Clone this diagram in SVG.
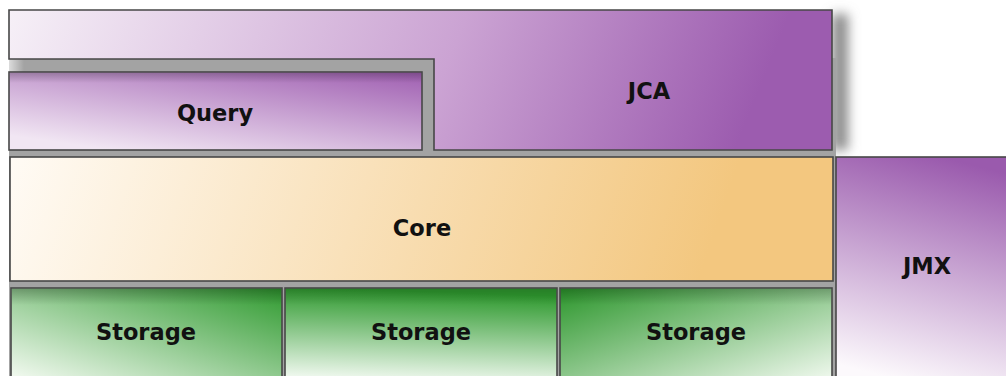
<svg xmlns="http://www.w3.org/2000/svg" width="1006" height="376" viewBox="0 0 1006 376">
  <style>
    .box { stroke: #474747; stroke-width: 1.6; }
    .label { font-family: "DejaVu Sans", Verdana, sans-serif; font-weight: bold; font-size: 22.5px; fill: #111; text-anchor: middle; }
  </style>
  <defs>
    <linearGradient id="gJca" gradientUnits="userSpaceOnUse" x1="9" y1="10" x2="800" y2="330">
      <stop offset="0" stop-color="#f6f0f7"/>
      <stop offset="0.5" stop-color="#cba3d3"/>
      <stop offset="0.85" stop-color="#9c5caf"/>
    </linearGradient>
    <linearGradient id="gQuery" x1="1" y1="0" x2="0.25" y2="1">
      <stop offset="0" stop-color="#9f5eb1"/>
      <stop offset="1" stop-color="#f1e6f3"/>
    </linearGradient>
    <linearGradient id="gCore" gradientUnits="userSpaceOnUse" x1="10" y1="157" x2="780" y2="420">
      <stop offset="0" stop-color="#fffbf5"/>
      <stop offset="0.85" stop-color="#f3c77f"/>
    </linearGradient>
    <linearGradient id="gSto1" x1="1" y1="0" x2="0" y2="1">
      <stop offset="0" stop-color="#2f9a2f"/>
      <stop offset="1" stop-color="#f5fbf3"/>
    </linearGradient>
    <linearGradient id="gSto2" x1="0.1" y1="0" x2="0" y2="1">
      <stop offset="0" stop-color="#2f9a2f"/>
      <stop offset="1" stop-color="#f7fcf6"/>
    </linearGradient>
    <linearGradient id="gSto3" x1="0" y1="0" x2="1" y2="1">
      <stop offset="0" stop-color="#2b962b"/>
      <stop offset="1" stop-color="#f1f9ef"/>
    </linearGradient>
    <linearGradient id="gJmx" x1="0.6" y1="0" x2="0.4" y2="1">
      <stop offset="0" stop-color="#9a5aad"/>
      <stop offset="1" stop-color="#fcf9fc"/>
    </linearGradient>
    <linearGradient id="topShade" x1="0" y1="0" x2="0" y2="1">
      <stop offset="0" stop-color="#000" stop-opacity="0.35"/>
      <stop offset="1" stop-color="#000" stop-opacity="0"/>
    </linearGradient>
    <linearGradient id="leftFade" x1="0" y1="0" x2="1" y2="0">
      <stop offset="0" stop-color="#fff" stop-opacity="1"/>
      <stop offset="1" stop-color="#fff" stop-opacity="0"/>
    </linearGradient>
    <filter id="soft" x="-1" y="-0.3" width="3" height="1.6">
      <feGaussianBlur stdDeviation="6"/>
    </filter>
  </defs>

  <!-- grey bedding between the layers -->
  <g id="frame">
    <rect x="832" y="14" width="16" height="136" fill="#8a8a8a" filter="url(#soft)"/>
    <rect x="9" y="58" width="827" height="318" fill="#a3a3a3"/>
    <rect x="0" y="58" width="24" height="15" fill="url(#leftFade)"/>
    <rect x="0" y="150" width="9" height="10" fill="#fff"/>
  </g>

  <g id="jca">
    <path class="box" d="M9,10 H832 V150 H434 V59 H9 Z" fill="url(#gJca)"/>
    <text class="label" x="649" y="99">JCA</text>
  </g>

  <g id="query">
    <rect class="box" x="9" y="72" width="413" height="78" fill="url(#gQuery)"/>
    <rect x="10" y="73" width="411" height="10" fill="url(#topShade)" opacity="0.6"/>
    <text class="label" x="215" y="121">Query</text>
  </g>

  <g id="core">
    <rect class="box" x="10" y="157" width="823" height="124" fill="url(#gCore)"/>
    <text class="label" x="422" y="236">Core</text>
  </g>

  <g id="storage1">
    <rect class="box" x="11" y="288" width="271" height="92" fill="url(#gSto1)"/>
    <rect x="12" y="289" width="269" height="16" fill="url(#topShade)" opacity="0.7"/>
    <text class="label" x="146" y="340">Storage</text>
  </g>

  <g id="storage2">
    <rect class="box" x="285" y="288" width="272" height="92" fill="url(#gSto2)"/>
    <rect x="286" y="289" width="270" height="16" fill="url(#topShade)" opacity="0.5"/>
    <text class="label" x="421" y="340">Storage</text>
  </g>

  <g id="storage3">
    <rect class="box" x="560" y="288" width="272" height="92" fill="url(#gSto3)"/>
    <rect x="561" y="289" width="270" height="16" fill="url(#topShade)" opacity="0.6"/>
    <text class="label" x="696" y="340">Storage</text>
  </g>

  <g id="jmx">
    <rect class="box" x="836" y="157" width="176" height="225" fill="url(#gJmx)"/>
    <text class="label" x="927" y="274">JMX</text>
  </g>
</svg>
